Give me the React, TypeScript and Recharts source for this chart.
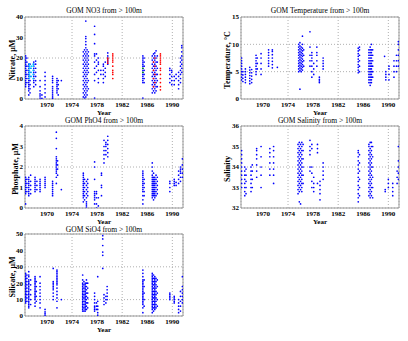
import { ScatterChart, Scatter, XAxis, YAxis, CartesianGrid, ReferenceArea } from 'recharts'

type Col = [number, number[]]

const years = [1970, 1974, 1978, 1982, 1986, 1990]
const yearDomain = [1966.5, 1991.7]

const no3Blue: Col[] = [
  [1966.6, [6, 7, 8, 9, 10, 11, 12, 13, 14, 15, 16, 17, 18, 19, 20, 21]],
  [1966.8, [8, 10, 12, 14, 16, 18, 20]],
  [1967.1, [2, 4, 5, 6, 7, 8, 9, 10, 11, 12, 13, 14, 15, 16, 17]],
  [1967.3, [3, 5, 7, 9, 11, 13, 15, 17]],
  [1967.9, [6, 8, 9, 10, 11, 12, 13, 14, 15, 16, 17, 18]],
  [1968.2, [7, 9, 11, 13, 15, 17, 18.5]],
  [1968.9, [0.5, 1.5, 2.5, 4, 6, 9]],
  [1969.2, [0.3, 2]],
  [1969.7, [1, 3, 5, 7, 9, 11, 13]],
  [1970.9, [0.3, 1, 2, 3, 4, 5, 6, 8, 9, 10, 11]],
  [1971.6, [3, 4, 5, 6, 7, 8, 9, 10]],
  [1971.8, [2, 5, 7, 9]],
  [1972.3, [9]],
  [1975.8, [1, 3, 5, 7, 9, 11, 13, 15, 17, 19, 21, 23]],
  [1976.0, [0.5, 2, 4, 6, 8, 10, 12, 14, 16, 18, 20, 22, 24]],
  [1976.2, [1, 3, 5, 7, 9, 11, 13, 15, 17, 19, 21, 23, 25, 26.5, 28, 29.5, 30.5, 38]],
  [1976.4, [2, 4, 6, 8, 10, 12, 14, 16, 18, 20, 22, 24]],
  [1976.6, [5, 9, 13, 15, 17, 19, 21, 23]],
  [1977.6, [0.5, 9, 12, 15, 18, 21, 22, 27, 31.5, 35.5]],
  [1977.9, [13, 16, 19, 22]],
  [1978.2, [8, 10, 14, 17, 18, 20]],
  [1978.6, [12, 14]],
  [1979.0, [8, 10, 12, 14, 16, 17]],
  [1979.3, [11, 13, 15, 18]],
  [1979.7, [17, 18, 19, 20, 21, 22.5]],
  [1985.3, [0.5, 8, 9, 10, 11, 12, 13, 14, 15, 16, 17, 18, 19, 20, 21]],
  [1985.5, [8, 10, 12, 14, 16, 18, 20]],
  [1986.8, [3, 5, 7, 9, 11, 13, 15, 17, 19, 21]],
  [1987.0, [4, 6, 8, 10, 12, 14, 16, 18, 20, 22]],
  [1987.2, [3, 5, 7, 9, 11, 13, 15, 17, 19, 21, 22.5]],
  [1987.4, [4, 6, 8, 10, 12, 14, 16, 18, 20, 23.5]],
  [1987.6, [6, 9, 12, 15, 18, 21]],
  [1989.6, [8, 10, 12, 14, 15]],
  [1989.9, [7, 9, 11, 13, 14]],
  [1990.3, [7, 9, 11]],
  [1990.6, [10, 12]],
  [1991.0, [5, 7, 9, 11, 13]],
  [1991.3, [8, 10, 12, 14, 16, 18, 20]],
  [1991.5, [13, 15, 17, 19, 21, 23, 25, 26]],
]
const no3Cyan: Col[] = [
  [1967.2, [10, 11, 12, 13, 14, 15, 16, 17]],
  [1967.5, [11, 13, 15, 16]],
  [1967.8, [10, 12, 14, 16, 17]],
]
const no3Red: Col[] = [
  [1979.7, [17.5, 18.5, 19.5, 20]],
  [1980.5, [10, 12, 13, 14, 16, 18, 19, 20, 21, 22]],
  [1987.0, [6, 10, 14, 18]],
  [1987.2, [8, 12, 16, 20]],
  [1988.1, [4.5, 6, 8, 10, 12, 14, 15, 17, 18, 19, 20, 21, 22]],
]
const no3Green: Col[] = [[1985.3, [13, 15]]]

const tempBlue: Col[] = [
  [1966.6, [3.5, 4, 4.5, 5, 5.5, 6, 6.5, 7, 7.5]],
  [1966.8, [3.2, 3.8, 4.4, 5]],
  [1967.2, [3, 3.5, 4, 4.5, 5, 5.5]],
  [1967.9, [2.8, 3.3, 3.8, 4.3, 4.8, 5.3, 5.8]],
  [1968.2, [3, 3.6, 4.2, 4.8, 5.4]],
  [1968.9, [4.5, 5, 5.5, 6, 6.5, 7, 7.5, 8]],
  [1969.1, [5.5, 6.5, 7.5]],
  [1969.7, [4.5, 5.5, 6.5, 7.5, 8.3]],
  [1970.9, [6, 6.5, 7, 7.5, 8, 8.5, 9]],
  [1971.5, [5.7, 6.3, 6.9, 7.5, 8.1, 8.7, 9]],
  [1972.3, [5.8]],
  [1975.7, [5, 5.5, 6, 6.5, 7, 7.5, 8, 8.5, 9, 9.5, 10]],
  [1975.9, [1.8, 5.2, 5.7, 6.2, 6.7, 7.2, 7.7, 8.2, 8.7, 9.2, 9.7, 10.3]],
  [1976.1, [5, 5.5, 6, 6.5, 7, 7.5, 8, 8.5, 9, 9.5]],
  [1976.3, [5.3, 5.8, 6.3, 6.8, 7.3, 7.8, 8.3, 8.8, 9.3, 10, 11.5]],
  [1976.5, [6, 7, 8, 9]],
  [1977.5, [6, 7, 8, 9.5, 12.3]],
  [1977.8, [4, 5, 6, 7, 7.5, 8, 8.5]],
  [1978.1, [4.5, 5.5, 6.5]],
  [1978.6, [6, 7, 8, 8.5, 9.5]],
  [1979.0, [3, 3.3, 3.6, 4]],
  [1979.6, [5.5, 6, 6.5, 7, 7.5]],
  [1985.2, [4.8, 5.3, 5.8, 6.3, 6.8, 7.3, 7.8, 8.3, 8.8, 9.3]],
  [1985.4, [5, 6, 7, 8, 9, 9.5]],
  [1986.9, [3, 3.5, 4, 4.5, 5, 5.5, 6, 6.5, 7, 7.5, 8, 8.5, 9]],
  [1987.1, [2.5, 3, 3.5, 4, 4.5, 5, 5.5, 6, 6.5, 7, 7.5, 8, 8.5, 9, 9.5]],
  [1987.3, [3, 3.5, 4, 4.5, 5, 5.5, 6, 6.5, 7, 7.5, 8, 8.5, 9, 10]],
  [1987.5, [4, 5, 6, 7, 8, 9]],
  [1989.4, [7.8]],
  [1989.6, [3.5, 4, 4.5, 5]],
  [1990.1, [3.5, 4.5, 5.5, 6]],
  [1990.9, [4, 5, 6, 7]],
  [1991.3, [5, 6, 7, 8]],
  [1991.6, [6, 7, 8, 9, 10, 10.5]],
]

const po4Blue: Col[] = [
  [1966.6, [0.2, 0.7, 0.8, 0.9, 1.0, 1.1, 1.2, 1.3, 1.4, 1.5]],
  [1966.8, [0.8, 1.0, 1.2, 1.4]],
  [1967.1, [0.6, 0.7, 0.8, 0.9, 1.0, 1.1, 1.2, 1.3, 1.4, 1.5]],
  [1967.4, [0.7, 0.9, 1.1, 1.3, 1.6]],
  [1968.1, [0.8, 0.9, 1.0, 1.1, 1.2, 1.3, 1.4, 1.5]],
  [1968.4, [0.9, 1.1, 1.3]],
  [1968.9, [0.8, 0.9, 1.0, 1.1, 1.2, 1.3, 1.4]],
  [1969.7, [1.0, 1.1, 1.2, 1.3, 1.4, 1.5]],
  [1970.9, [0.6, 0.7, 0.8, 0.9, 1.0, 1.1, 1.2, 1.3]],
  [1971.5, [1.2, 1.5, 1.7, 1.8, 1.9, 2.0, 2.1, 2.2, 2.3, 2.4, 2.5, 2.9, 3.4, 3.7]],
  [1971.7, [1.6, 1.9, 2.1, 2.3]],
  [1972.3, [0.9]],
  [1975.8, [0.3, 0.5, 0.6, 0.7, 0.8, 0.9, 1.0, 1.1, 1.2, 1.3, 1.4, 1.5, 1.6, 1.7]],
  [1976.0, [0.4, 0.6, 0.8, 1.0, 1.2, 1.4]],
  [1976.3, [0, 0.1, 0.2, 0.3, 0.5, 0.7, 0.9, 1.1, 1.3]],
  [1976.5, [0.6, 0.8, 1.0, 1.2, 1.4]],
  [1977.6, [0.2, 0.4, 0.5, 0.6, 0.7, 0.8, 1.4, 2.0, 2.25]],
  [1977.9, [0, 0.2, 0.5, 0.7, 0.8]],
  [1978.2, [0.1, 0.5]],
  [1978.7, [0.6, 1.0, 1.1, 1.6, 1.7]],
  [1979.1, [2.2, 2.4, 2.6, 2.8, 3.0, 3.3]],
  [1979.4, [2.6, 2.8, 3.0, 3.1, 3.2]],
  [1979.7, [2.5, 2.7, 2.9, 3.1, 3.3, 3.5]],
  [1985.3, [0.2, 0.4, 0.6, 0.8, 0.9, 1.0, 1.1, 1.2, 1.3, 1.4, 1.5, 1.6, 1.7, 1.8]],
  [1985.5, [0.6, 0.8, 1.0, 1.2, 1.4]],
  [1986.8, [0.5, 0.6, 0.7, 0.8, 0.9, 1.0, 1.1, 1.2, 1.3, 1.4, 1.5, 1.6, 1.8, 2.0, 2.2]],
  [1987.0, [0.4, 0.6, 0.7, 0.8, 0.9, 1.0, 1.1, 1.2, 1.3, 1.4, 1.5, 1.7]],
  [1987.2, [0.5, 0.6, 0.7, 0.8, 0.9, 1.0, 1.1, 1.2, 1.3, 1.4, 1.5]],
  [1987.4, [0.6, 0.8, 1.0, 1.2, 1.4, 1.6]],
  [1987.6, [0.7, 0.9, 1.1, 1.3, 1.5]],
  [1989.6, [0.8, 1.0, 1.2, 1.3]],
  [1990.3, [1.1, 1.2, 1.3, 1.4]],
  [1990.6, [1.1, 1.25]],
  [1991.0, [1.2, 1.4, 1.6, 1.8]],
  [1991.3, [1.3, 1.5, 1.7, 1.8, 1.9, 2.0]],
  [1991.6, [1.5, 1.7, 1.9, 2.1, 2.4]],
]

const salBlue: Col[] = [
  [1966.6, [33.0, 33.2, 33.4, 33.6, 33.8, 34.0, 34.2, 34.4, 34.6, 34.8]],
  [1967.1, [32.6, 32.8, 33.0, 33.2, 33.4, 33.6, 33.8, 34.0]],
  [1967.3, [32.7, 33, 33.3, 33.6, 33.9]],
  [1968.1, [32.8, 33.0, 33.2, 33.4, 33.6, 33.8, 34.0]],
  [1968.3, [33, 33.4, 33.8, 34.1]],
  [1969.0, [33.5, 33.8, 34.1, 34.4, 34.6, 34.8, 34.9]],
  [1969.7, [33, 33.6, 34, 34.5, 35]],
  [1971.1, [33.6, 33.9, 34.2, 34.5, 34.7, 34.9]],
  [1971.7, [33.2, 33.6, 33.9, 34.2, 34.5, 34.8, 35]],
  [1975.6, [32.7, 32.9, 33.1, 33.3, 33.5, 33.7, 33.9, 34.1, 34.3, 34.5, 34.7, 34.9, 35.1]],
  [1975.8, [32.3, 32.8, 33, 33.2, 33.4, 33.6, 33.8, 34, 34.2, 34.4, 34.6, 34.8, 35, 35.2]],
  [1976.0, [32.2, 32.9, 33.1, 33.3, 33.5, 33.7, 33.9, 34.1, 34.3, 34.5, 34.7, 34.9, 35.1]],
  [1976.2, [32.8, 33, 33.2, 33.4, 33.6, 33.8, 34, 34.2, 34.4, 34.6, 34.8, 35, 35.2]],
  [1976.4, [33.2, 33.6, 34, 34.4, 34.8, 35.1]],
  [1977.5, [33.8, 34.0, 34.6, 34.8, 35.0, 35.3]],
  [1977.8, [33, 33.3, 33.7, 34.0, 34.9, 35.1]],
  [1978.1, [32.8, 33.0, 33.2, 33.5]],
  [1978.7, [33.2, 34.7, 34.9, 35.1]],
  [1979.1, [32.4, 32.7, 32.9, 33.1, 33.3]],
  [1979.6, [33.4, 33.6, 33.8, 34.0, 34.2]],
  [1985.2, [32.3, 32.5, 32.7, 32.9, 33.1, 33.3, 33.5, 33.7, 33.9, 34.1, 34.3, 34.5, 34.7, 34.8]],
  [1985.4, [32.6, 33, 33.4, 33.8, 34.2, 34.6]],
  [1986.9, [32.6, 32.8, 33, 33.2, 33.4, 33.6, 33.8, 34, 34.2, 34.4, 34.6, 34.8, 35, 35.1]],
  [1987.1, [32.5, 32.7, 32.9, 33.1, 33.3, 33.5, 33.7, 33.9, 34.1, 34.3, 34.5, 34.7, 34.9, 35.2]],
  [1987.3, [32.6, 32.8, 33, 33.2, 33.4, 33.6, 33.8, 34, 34.2, 34.4, 34.6, 34.8, 35, 35.2]],
  [1987.5, [32.5, 33, 33.5, 34, 34.5, 35]],
  [1989.5, [32.8, 32.9]],
  [1990.0, [33.0, 33.2, 33.4]],
  [1990.7, [32.6, 32.8, 33.0, 33.2]],
  [1991.4, [33.2, 33.5, 33.8]],
  [1991.6, [33.4, 33.7, 34, 34.3, 35]],
]

const sio4Blue: Col[] = [
  [1966.6, [8, 9, 10, 11, 12, 13, 14, 15, 16, 17, 18, 19, 20, 21, 22, 23, 24, 25, 26]],
  [1966.8, [9, 11, 13, 15, 17, 19, 21, 23, 25]],
  [1967.1, [5, 6, 7, 8, 9, 10, 11, 12, 13, 14, 15, 16, 17, 18, 19, 20, 21, 22, 24, 25, 27]],
  [1967.4, [7, 10, 13, 16, 19, 22]],
  [1968.1, [6, 8, 10, 11, 12, 13, 14, 15, 16, 17, 18, 19, 20, 21, 22, 23, 24]],
  [1968.3, [9, 12, 15, 18, 21]],
  [1968.9, [5, 8, 10, 12, 14, 16, 18, 20, 24]],
  [1969.7, [0.5, 1.5, 2.5, 4]],
  [1971.0, [10, 12, 14, 16, 17, 18, 19, 20, 21, 29]],
  [1971.6, [5, 9, 11, 13, 15, 17, 19, 20, 21, 22, 23, 24, 25, 26, 27, 28]],
  [1972.3, [10]],
  [1975.7, [3, 4, 5, 6, 7, 8, 9, 10, 11, 12, 13, 14, 15, 16, 17, 18, 19, 20, 22, 25]],
  [1975.9, [3, 5, 7, 9, 11, 13, 15, 17, 19, 21]],
  [1976.1, [3, 4, 5, 6, 7, 8, 9, 10, 11, 12, 13, 14, 15, 16, 17, 18, 19, 20]],
  [1976.3, [4, 6, 8, 10, 12, 14, 16, 18, 20, 22]],
  [1976.5, [5, 8, 11, 14, 17, 20]],
  [1977.6, [3, 4, 5, 6, 8, 10, 12, 14]],
  [1977.9, [4, 6, 8]],
  [1978.1, [0.5, 2, 4, 6, 9, 24]],
  [1978.9, [29, 37, 39, 43, 47, 49]],
  [1979.1, [7, 9, 11, 13]],
  [1979.4, [8, 10, 12]],
  [1979.6, [10, 12, 14, 16, 18]],
  [1985.3, [2, 5, 7, 8, 9, 10, 11, 12, 13, 14, 15, 16, 17, 18, 19, 20, 21, 22, 24, 26, 28]],
  [1985.5, [6, 10, 14, 18, 22]],
  [1986.8, [2, 4, 5, 6, 7, 8, 9, 10, 11, 12, 13, 14, 15, 16, 17, 18, 19, 20, 21, 22, 23, 24, 25, 26]],
  [1987.0, [3, 5, 7, 9, 11, 13, 15, 17, 19, 21, 23, 25]],
  [1987.2, [4, 5, 6, 7, 8, 9, 10, 11, 12, 13, 14, 15, 16, 17, 18, 19, 20, 21, 22, 23, 24]],
  [1987.4, [5, 7, 9, 11, 13, 15, 17, 19, 21, 23]],
  [1987.6, [6, 10, 14, 18, 22]],
  [1989.6, [10, 11, 12, 13, 14]],
  [1990.3, [8, 9, 10, 11, 12]],
  [1991.0, [2, 4, 6, 8, 10]],
  [1991.3, [3, 6, 9, 12, 15]],
  [1991.6, [8, 10, 12, 14, 16, 18, 24]],
]

const toPoints = (cols: Col[]) => cols.flatMap(([x, ys]) => ys.map((y) => ({ x, y })))

const font = "'Liberation Serif', 'Times New Roman', serif"

// small matlab-ish dots
const dot = (color: string) => (p: any) => <circle cx={p.cx} cy={p.cy} r={0.85} fill={color} />

type PanelProps = {
  left: number
  top: number
  col: 0 | 1
  titleY: number
  title: string
  ylabel: string
  ylabelX: number
  yDomain: [number, number]
  yTicks: number[]
  series: { cols: Col[]; color: string }[]
}

function Panel({ left, top, col, titleY, title, ylabel, ylabelX, yDomain, yTicks, series }: PanelProps) {
  const yw = col === 0 ? 25 : 37
  const mr = col === 0 ? 21 : 9
  const plotL = left + yw
  const plotR = left + 204 - mr
  const cx = (plotL + plotR) / 2
  const txt = { position: 'absolute' as const, fontFamily: font, whiteSpace: 'nowrap' as const, lineHeight: 1 }
  return (
    <>
      <div style={{ ...txt, left: cx, top: top + titleY, transform: 'translate(-50%,-50%)', fontSize: 7.5 }}>
        {title}
      </div>
      <div style={{ ...txt, left: cx, top: top + 113, transform: 'translate(-50%,-50%)', fontSize: 7, fontWeight: 'bold' }}>
        Year
      </div>
      <div style={{ ...txt, left: ylabelX, top: top + 60, transform: 'translate(-50%,-50%) rotate(-90deg)', fontSize: 8, fontWeight: 'bold' }}>
        {ylabel}
      </div>
      <div style={{ position: 'absolute', left, top }}>
        <ScatterChart width={204} height={120} margin={{ top: 17, right: mr, bottom: 1, left: 0 }}>
          <CartesianGrid stroke="#b0b0b0" strokeDasharray="1 2" />
          <XAxis
            type="number"
            dataKey="x"
            domain={yearDomain}
            ticks={years}
            allowDataOverflow
            height={20}
            axisLine={false}
            tickLine={false}
            tickSize={2}
            tickMargin={1}
            tick={{ fontSize: 7, fontFamily: font, fontWeight: 'bold', fill: '#000' }}
          />
          <YAxis
            type="number"
            dataKey="y"
            domain={yDomain}
            ticks={yTicks}
            allowDataOverflow
            width={yw}
            axisLine={false}
            tickLine={false}
            tickSize={2}
            tickMargin={0}
            tick={{ fontSize: 7, fontFamily: font, fontWeight: 'bold', fill: '#000' }}
          />
          <ReferenceArea x1={yearDomain[0]} x2={yearDomain[1]} y1={yDomain[0]} y2={yDomain[1]} fill="none" fillOpacity={0} stroke="#999" strokeWidth={1} ifOverflow="visible" />
          {series.map((s, i) => (
            <Scatter key={i} data={toPoints(s.cols)} shape={dot(s.color)} isAnimationActive={false} />
          ))}
        </ScatterChart>
      </div>
    </>
  )
}

export default function App() {
  return (
    <div style={{ position: 'absolute', left: 0, top: 0, width: 408, height: 341, background: '#fff', overflow: 'hidden' }}>
      <Panel left={0} top={0} col={0} titleY={11} title="GOM NO3 from > 100m" ylabel="Nitrate, μM" ylabelX={12.5} yDomain={[0, 40]} yTicks={[0, 10, 20, 30, 40]}
        series={[{ cols: no3Blue, color: '#0000ff' }, { cols: no3Cyan, color: '#00ccff' }, { cols: no3Red, color: '#ff0000' }, { cols: no3Green, color: '#00a000' }]} />
      <Panel left={204} top={0} col={1} titleY={11} title="GOM Temperature from > 100m" ylabel="Temperature, °C" ylabelX={228} yDomain={[0, 15]} yTicks={[0, 5, 10, 15]}
        series={[{ cols: tempBlue, color: '#0000ff' }]} />
      <Panel left={0} top={109} col={0} titleY={11.5} title="GOM PhO4 from > 100m" ylabel="Phosphate, μM" ylabelX={15.5} yDomain={[0, 4]} yTicks={[0, 1, 2, 3, 4]}
        series={[{ cols: po4Blue, color: '#0000ff' }]} />
      <Panel left={204} top={109} col={1} titleY={11.5} title="GOM Salinity from > 100m" ylabel="Salinity" ylabelX={228} yDomain={[32, 36]} yTicks={[32, 33, 34, 35, 36]}
        series={[{ cols: salBlue, color: '#0000ff' }]} />
      <Panel left={0} top={217} col={0} titleY={12.5} title="GOM SiO4 from > 100m" ylabel="Silicate, μM" ylabelX={13} yDomain={[0, 50]} yTicks={[0, 10, 20, 30, 40, 50]}
        series={[{ cols: sio4Blue, color: '#0000ff' }]} />
    </div>
  )
}
